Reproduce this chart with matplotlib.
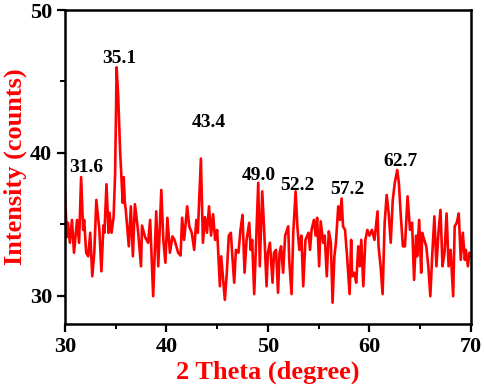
import matplotlib
matplotlib.use("Agg")
import matplotlib.pyplot as plt
from matplotlib.ticker import MultipleLocator

# 2 theta (degree) and intensity (counts)
two_theta = [
    30.0, 30.2, 30.3, 30.5, 30.7, 30.9, 31.2, 31.4, 31.6, 31.8, 31.9, 32.1, 32.3, 32.5,
    32.7, 32.9, 33.1, 33.4, 33.6, 33.8, 33.9, 34.1, 34.3, 34.4, 34.6, 34.8, 34.95, 35.1,
    35.25, 35.45, 35.7,
    35.8, 35.9, 36.0, 36.3, 36.5, 36.7, 36.9, 37.2, 37.5, 37.6, 37.9, 38.2, 38.4, 38.7,
    39.0, 39.2, 39.5, 39.7, 39.9, 40.1, 40.35, 40.6, 40.8, 41.16, 41.4, 41.55, 41.75,
    42.05, 42.25, 42.5, 42.74, 42.95, 43.1, 43.4, 43.6, 43.8, 44.0, 44.2, 44.4, 44.6,
    44.8, 45.0, 45.27, 45.4, 45.76, 45.95, 46.15, 46.35, 46.5, 46.68, 46.85, 47.1,
    47.3, 47.5, 47.7, 47.9, 48.16, 48.3, 48.45, 48.65, 48.9, 49.05, 49.2, 49.44, 49.6,
    49.87, 50.0, 50.2, 50.46, 50.6, 50.8, 51.0, 51.15, 51.3, 51.5, 51.7, 52.0, 52.1,
    52.33, 52.5, 52.73, 52.9, 53.1, 53.3, 53.48, 53.7, 54.0, 54.15, 54.3, 54.53, 54.7,
    54.85, 55.05, 55.2, 55.45, 55.6, 55.8, 56.0, 56.2, 56.37, 56.55, 56.7, 56.93, 57.1,
    57.26, 57.4, 57.6, 57.8, 58.05, 58.2, 58.3, 58.5, 58.7, 58.9, 59.05, 59.2, 59.4,
    59.6, 59.8, 60.0, 60.25, 60.5, 60.8, 60.9, 61.1, 61.3, 61.5, 61.7, 61.9, 62.1, 62.3,
    62.5, 62.74, 62.9, 63.1, 63.3, 63.5, 63.76, 64.0, 64.2, 64.4, 64.6, 64.7, 64.9,
    65.1, 65.2, 65.4, 65.6, 65.8, 66.0, 66.2, 66.4, 66.6, 66.8, 67.0, 67.2, 67.4, 67.6,
    67.8, 68.0, 68.25, 68.4, 68.6, 68.8, 69.0, 69.2, 69.4, 69.5, 69.7, 69.85, 70.0,
]
intensity = [
    37.4, 34.1, 35.1, 33.7, 35.3, 33.0, 35.3, 33.7, 38.3, 34.6, 35.3, 33.0, 32.75, 34.4,
    31.35, 33.0, 36.7, 34.6, 31.7, 34.9, 34.4, 37.8, 34.4, 35.8, 34.4, 35.5, 38.5, 46.0,
    44.0, 40.0, 36.5,
    38.3, 36.6, 36.0, 33.45, 36.25, 32.75, 36.4, 34.6, 32.05, 34.9, 34.1, 33.7, 35.3, 29.95,
    35.9, 32.05, 37.4, 33.9, 32.3, 35.45, 33.0, 34.15, 33.9, 33.0, 32.8, 35.45, 33.9,
    36.25, 34.85, 34.4, 33.2, 35.3, 34.4, 39.6, 33.7, 35.5, 34.4, 36.25, 34.2, 35.7,
    33.9, 34.6, 30.65, 32.75, 29.7, 31.55, 34.2, 34.4, 32.75, 30.9, 33.2, 33.0,
    34.6, 35.65, 31.6, 33.9, 35.1, 33.2, 33.9, 30.1, 35.1, 37.9, 32.05, 37.3, 35.1,
    30.65, 33.0, 33.7, 30.9, 33.0, 33.2, 30.2, 33.0, 33.45, 31.6, 34.2, 34.85, 32.5,
    30.1, 34.4, 37.3, 34.85, 33.2, 34.2, 30.65, 33.9, 34.4, 33.2, 34.6, 35.3, 34.2,
    35.45, 32.05, 35.2, 33.7, 34.2, 31.35, 34.5, 33.7, 29.5, 32.75, 33.7, 36.25, 35.3,
    36.8, 34.85, 34.6, 32.75, 30.1, 33.9, 31.35, 31.6, 30.9, 33.45, 32.05, 33.9, 30.65,
    33.9, 34.6, 34.2, 34.6, 33.9, 35.9, 33.45, 32.05, 30.1, 35.1, 37.05, 35.75, 33.7, 36.7,
    37.9, 38.8, 37.9, 35.5, 33.45, 33.45, 36.95, 34.6, 35.1, 31.1, 34.2, 32.75, 35.3,
    31.6, 34.4, 33.9, 33.45, 32.05, 29.95, 33.0, 35.55, 32.05, 34.4, 36.0, 32.05, 33.0, 35.75,
    32.05, 33.2, 29.95, 34.85, 35.1, 35.75, 32.5, 34.4, 32.5, 33.2, 32.05, 33.0, 32.8,
]

peak_labels = ["31.6", "35.1", "43.4", "49.0", "52.2", "57.2", "62.7"]
label_x = [32.1, 35.35, 44.2, 49.1, 52.95, 57.8, 63.1]
label_y = [39.0, 46.6, 42.1, 38.4, 37.7, 37.4, 39.4]

plt.rcParams['font.family'] = ['Liberation Serif', 'DejaVu Serif']
plt.rcParams['font.weight'] = 'bold'

fig = plt.figure(figsize=(4.84, 3.9), dpi=100)
ax = fig.add_axes([0.134, 0.169, 0.839, 0.805])

ax.plot(two_theta, intensity, color='#ff0000', linewidth=1.9)

for txt, lx, ly in zip(peak_labels, label_x, label_y):
    ax.text(lx, ly, txt, ha='center', va='center', fontsize=14, fontweight='bold', color='black')

ax.set_xlim(30, 70)
ax.set_ylim(28, 50)
ax.xaxis.set_major_locator(MultipleLocator(10))
ax.xaxis.set_minor_locator(MultipleLocator(5))
ax.yaxis.set_major_locator(MultipleLocator(10))
ax.yaxis.set_minor_locator(MultipleLocator(5))
ax.tick_params(which='major', direction='out', length=6, width=1.6, labelsize=16, pad=3)
ax.tick_params(which='minor', direction='out', length=3.5, width=1.4)
for lab in ax.get_xticklabels() + ax.get_yticklabels():
    lab.set_fontweight('bold')
for s in ax.spines.values():
    s.set_linewidth(1.8)

ax.set_xlabel("2 Theta (degree)", fontsize=19, fontweight='bold', color='#ff0000', labelpad=3)
ax.set_ylabel("Intensity (counts)", fontsize=19, fontweight='bold', color='#ff0000', labelpad=2)

fig.savefig("out.png", dpi=100)
